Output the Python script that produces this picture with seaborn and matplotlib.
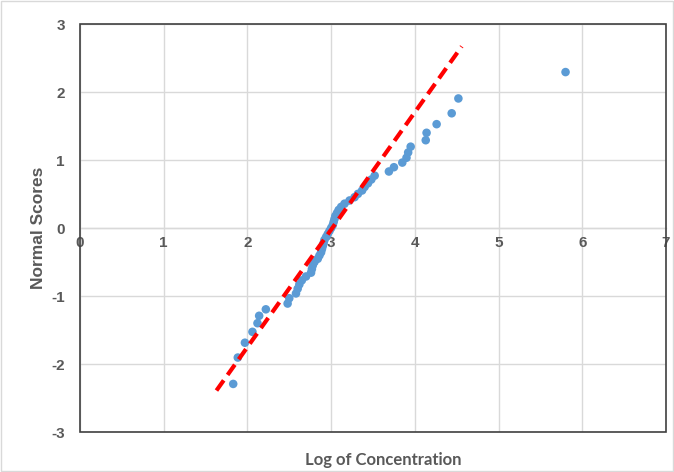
import matplotlib
matplotlib.use("Agg")
import matplotlib.pyplot as plt
import seaborn as sns
import pandas as pd
from matplotlib.patches import Rectangle

# Datos (log de concentración vs. puntuaciones normales)
log_conc = [1.83, 1.885, 1.97, 2.06, 2.12, 2.14, 2.22, 2.48, 2.50, 2.58,
            2.60, 2.62, 2.65, 2.70, 2.76, 2.77, 2.78, 2.80, 2.84, 2.86,
            2.88, 2.89, 2.90, 2.91, 2.92, 2.94, 2.96, 2.98, 3.00, 3.02,
            3.03, 3.04, 3.05, 3.07, 3.09, 3.12, 3.16, 3.22, 3.28, 3.32,
            3.37, 3.40, 3.44, 3.48, 3.52, 3.69, 3.75, 3.85, 3.90, 3.92,
            3.95, 4.13, 4.14, 4.26, 4.44, 4.52, 5.80]
normal_scores = [-2.293, -1.905, -1.687, -1.527, -1.400, -1.291, -1.196, -1.111, -1.033, -0.962,
                 -0.894, -0.831, -0.770, -0.713, -0.657, -0.604, -0.552, -0.502, -0.453, -0.405,
                 -0.358, -0.311, -0.266, -0.221, -0.176, -0.132, -0.088, -0.044, 0.0, 0.044,
                 0.088, 0.132, 0.176, 0.221, 0.266, 0.311, 0.358, 0.405, 0.453, 0.502,
                 0.552, 0.604, 0.657, 0.713, 0.770, 0.831, 0.894, 0.962, 1.033, 1.111,
                 1.196, 1.291, 1.400, 1.527, 1.687, 1.905, 2.293]

# Línea de tendencia (extremos)
trend_x = [1.63, 4.56]
trend_y = [-2.39, 2.67]

x_ticks = [0, 1, 2, 3, 4, 5, 6, 7]
y_ticks = [-3, -2, -1, 0, 1, 2, 3]

df = pd.DataFrame({'x': log_conc, 'y': normal_scores})
df_trend = pd.DataFrame({'x': trend_x, 'y': trend_y})

sns.set_style("white")
plt.rcParams['font.family'] = ['Liberation Sans', 'DejaVu Sans']
plt.rcParams['axes.unicode_minus'] = False

fig = plt.figure(figsize=(6.74, 4.72), dpi=100)
ax = fig.add_axes([80 / 674, 1 - 432 / 472, 586 / 674, 408 / 472])

gray = '#595959'
ax.set_xlim(0, 7)
ax.set_ylim(-3, 3)
ax.set_xticks(x_ticks)
ax.set_yticks(y_ticks)
ax.grid(True, color='#D9D9D9', lw=1)
ax.set_axisbelow(True)

sns.scatterplot(data=df, x='x', y='y', ax=ax, color='#5B9BD5', s=38,
                edgecolor='none', zorder=3)
sns.lineplot(data=df_trend, x='x', y='y', ax=ax, color='#FF0000', lw=3,
             linestyle=(0, (3, 1.6)), zorder=4)

# Eje x cruzando en y=0, estilo Excel
ax.spines['bottom'].set_position(('data', 0))
ax.spines['bottom'].set_color('#D9D9D9')
ax.spines['bottom'].set_linewidth(1)
for s in ['top', 'right', 'left']:
    ax.spines[s].set_visible(False)
ax.add_patch(Rectangle((0, 0), 1, 1, transform=ax.transAxes, fill=False,
                       edgecolor='#404040', lw=1.2, zorder=5, clip_on=False))

ax.tick_params(axis='x', length=0, pad=6, labelsize=11, labelcolor=gray)
ax.tick_params(axis='y', length=0, pad=11, labelsize=11, labelcolor=gray)
for lbl in ax.get_xticklabels() + ax.get_yticklabels():
    lbl.set_fontweight('bold')

ax.set_xlabel('')
ax.set_ylabel('Normal Scores', fontsize=12.5, fontweight='bold', color=gray)
ax.yaxis.set_label_coords(-(80 - 46) / 586, 0.5)
fig.text(383 / 674, 1 - 460 / 472, 'Log of Concentration', ha='center', va='center',
         fontsize=12, fontweight='bold', color=gray, family=['Lato', 'DejaVu Sans'])

fig.add_artist(Rectangle((0.002, 0.002), 0.996, 0.996, transform=fig.transFigure,
                         fill=False, edgecolor='#D9D9D9', lw=1))

fig.savefig('out.png', dpi=100)
